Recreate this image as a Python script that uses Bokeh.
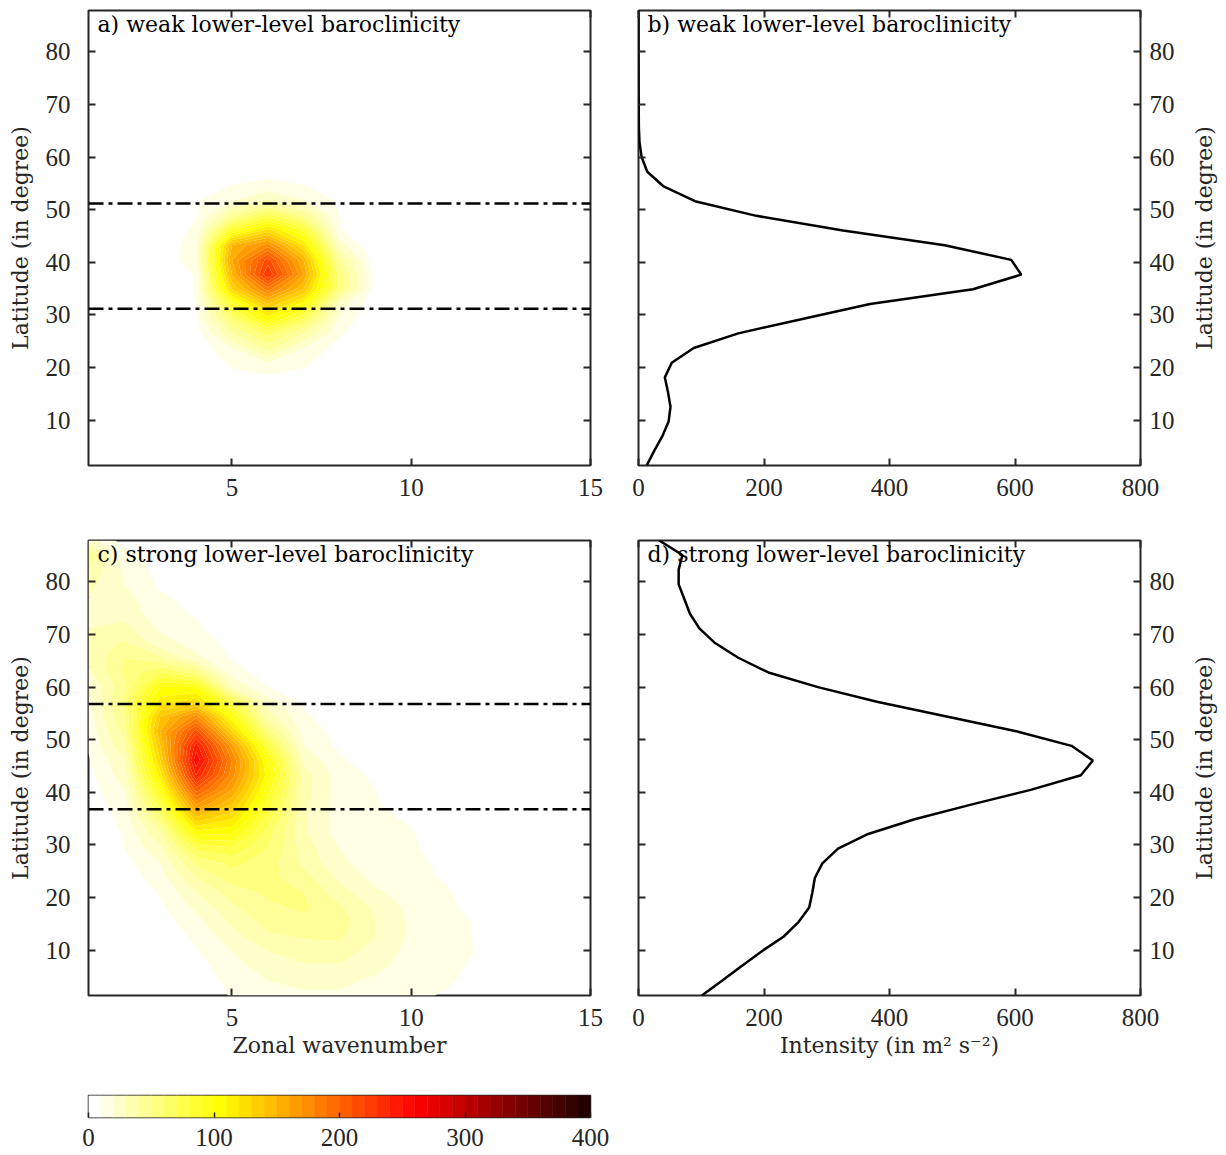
import math
import numpy as np
from bokeh.plotting import figure
from bokeh.models import Span, Label, LinearAxis, FixedTicker
from bokeh.layouts import column, row
from bokeh.embed import file_html
from bokeh.resources import INLINE

# ---------------------------------------------------------------- data
wavenumber = list(range(1, 16))
latitude = [1.40, 4.19, 6.98, 9.77, 12.56, 15.35, 18.14, 20.93, 23.72, 26.51,
            29.30, 32.09, 34.88, 37.67, 40.47, 43.26, 46.05, 48.84, 51.63, 54.42,
            57.21, 60.00, 62.79, 65.58, 68.37, 71.16, 73.95, 76.74, 79.53, 82.33,
            85.10, 87.86]

# eddy intensity per zonal wavenumber (rows: latitude, columns: wavenumber 1..15)
weak_spectrum = [
    [0, 1, 1, 2, 2, 2, 2, 2, 1, 0, 0, 0, 0, 0, 0],
    [0, 1, 2, 3, 4, 4, 4, 4, 2, 1, 0, 0, 0, 0, 0],
    [0, 2, 4, 5, 6, 6, 6, 5, 3, 1, 0, 0, 0, 0, 0],
    [0, 3, 5, 6, 7, 7, 7, 6, 4, 2, 1, 0, 0, 0, 0],
    [0, 3, 5, 7, 8, 8, 7, 6, 4, 2, 1, 0, 0, 0, 0],
    [0, 3, 5, 6, 7, 7, 6, 5, 4, 3, 1, 0, 0, 0, 0],
    [0, 2, 3, 5, 7, 8, 7, 5, 3, 2, 0, 0, 0, 0, 0],
    [0, 0, 1, 2, 12, 20, 12, 3, 1, 0, 0, 0, 0, 0, 0],
    [0, 0, 0, 2, 20, 45, 20, 5, 0, 0, 0, 0, 0, 0, 0],
    [0, 0, 0, 5, 40, 65, 40, 12, 0, 0, 0, 0, 0, 0, 0],
    [0, 0, 0, 8, 60, 105, 70, 18, 0, 0, 0, 0, 0, 0, 0],
    [0, 0, 0, 10, 85, 140, 105, 25, 2, 0, 0, 0, 0, 0, 0],
    [0, 0, 0, 11, 130, 185, 140, 55, 5, 0, 0, 0, 0, 0, 0],
    [0, 0, 0, 11, 150, 230, 160, 55, 5, 0, 0, 0, 0, 0, 0],
    [0, 0, 0, 18, 160, 215, 150, 45, 2, 0, 0, 0, 0, 0, 0],
    [0, 0, 0, 17, 150, 175, 120, 25, 0, 0, 0, 0, 0, 0, 0],
    [0, 0, 0, 13, 90, 125, 87, 11, 0, 0, 0, 0, 0, 0, 0],
    [0, 0, 0, 9, 45, 75, 49, 10, 0, 0, 0, 0, 0, 0, 0],
    [0, 0, 0, 9, 20, 32, 21, 8, 0, 0, 0, 0, 0, 0, 0],
    [0, 0, 0, 2, 11, 15, 11, 2, 0, 0, 0, 0, 0, 0, 0],
    [0, 0, 0, 1, 4, 5, 3, 1, 0, 0, 0, 0, 0, 0, 0],
    [0, 0, 0, 0, 1, 2, 2, 0, 0, 0, 0, 0, 0, 0, 0],
    [0, 0, 0, 0, 0, 0, 0, 0, 0, 0, 0, 0, 0, 0, 0],
    [0, 0, 0, 0, 0, 0, 0, 0, 0, 0, 0, 0, 0, 0, 0],
    [0, 0, 0, 0, 0, 0, 0, 0, 0, 0, 0, 0, 0, 0, 0],
    [0, 0, 0, 0, 0, 0, 0, 0, 0, 0, 0, 0, 0, 0, 0],
    [0, 0, 0, 0, 0, 0, 0, 0, 0, 0, 0, 0, 0, 0, 0],
    [0, 0, 0, 0, 0, 0, 0, 0, 0, 0, 0, 0, 0, 0, 0],
    [0, 0, 0, 0, 0, 0, 0, 0, 0, 0, 0, 0, 0, 0, 0],
    [0, 0, 0, 0, 0, 0, 0, 0, 0, 0, 0, 0, 0, 0, 0],
    [0, 0, 0, 0, 0, 0, 0, 0, 0, 0, 0, 0, 0, 0, 0],
    [0, 0, 0, 0, 0, 0, 0, 0, 0, 0, 0, 0, 0, 0, 0],
]

strong_spectrum = [
    [0, 0, 0, 2, 11, 15, 18, 18, 15, 12, 9, 1, 0, 0, 0],
    [0, 0, 0, 4, 13, 20, 23, 23, 18, 13, 11, 7, 1, 0, 0],
    [0, 0, 0, 6, 16, 25, 29, 29, 23, 15, 12, 8, 1, 0, 0],
    [0, 0, 0, 9, 20, 30, 35, 35, 26, 17, 13, 9, 2, 0, 0],
    [0, 0, 3, 12, 26, 38, 41, 42, 30, 18, 12, 9, 1, 0, 0],
    [0, 0, 5, 16, 32, 44, 47, 45, 30, 18, 12, 9, 0, 0, 0],
    [0, 0, 8, 22, 38, 48, 52, 42, 28, 17, 12, 5, 0, 0, 0],
    [0, 2, 11, 30, 45, 52, 50, 35, 22, 15, 11, 4, 0, 0, 0],
    [0, 4, 15, 40, 55, 53, 45, 28, 17, 13, 9, 2, 0, 0, 0],
    [0, 6, 20, 52, 63, 55, 38, 22, 15, 12, 8, 2, 0, 0, 0],
    [0, 10, 28, 72, 78, 60, 36, 20, 14, 12, 4, 0, 0, 0, 0],
    [0, 11, 38, 102, 100, 65, 32, 16, 12, 11, 2, 0, 0, 0, 0],
    [2, 13, 55, 135, 120, 75, 32, 15, 12, 9, 0, 0, 0, 0, 0],
    [4, 16, 75, 170, 140, 85, 33, 15, 11, 4, 0, 0, 0, 0, 0],
    [5, 20, 95, 205, 160, 95, 35, 15, 10, 2, 0, 0, 0, 0, 0],
    [7, 25, 115, 240, 175, 105, 35, 15, 8, 0, 0, 0, 0, 0, 0],
    [9, 30, 130, 258, 180, 100, 28, 12, 4, 0, 0, 0, 0, 0, 0],
    [11, 38, 140, 245, 165, 80, 20, 8, 2, 0, 0, 0, 0, 0, 0],
    [13, 45, 150, 215, 130, 55, 16, 6, 0, 0, 0, 0, 0, 0, 0],
    [15, 50, 140, 175, 100, 35, 12, 4, 0, 0, 0, 0, 0, 0, 0],
    [18, 55, 115, 125, 75, 25, 8, 3, 0, 0, 0, 0, 0, 0, 0],
    [20, 48, 100, 100, 30, 10, 4, 1, 0, 0, 0, 0, 0, 0, 0],
    [28, 52, 70, 55, 15, 5, 2, 0, 0, 0, 0, 0, 0, 0, 0],
    [32, 50, 42, 23, 9, 3, 0, 0, 0, 0, 0, 0, 0, 0, 0],
    [33, 42, 25, 15, 7, 1, 0, 0, 0, 0, 0, 0, 0, 0, 0],
    [30, 33, 18, 12, 3, 1, 0, 0, 0, 0, 0, 0, 0, 0, 0],
    [30, 27, 14, 9, 2, 1, 0, 0, 0, 0, 0, 0, 0, 0, 0],
    [30, 24, 13, 5, 2, 0, 0, 0, 0, 0, 0, 0, 0, 0, 0],
    [33, 20, 8, 3, 0, 0, 0, 0, 0, 0, 0, 0, 0, 0, 0],
    [38, 18, 6, 2, 0, 0, 0, 0, 0, 0, 0, 0, 0, 0, 0],
    [50, 15, 5, 2, 0, 0, 0, 0, 0, 0, 0, 0, 0, 0, 0],
    [25, 5, 2, 0, 0, 0, 0, 0, 0, 0, 0, 0, 0, 0, 0],
]

# zonally integrated intensity profiles (m^2 s^-2)
weak_intensity = [13, 25, 38, 48, 51, 47, 42, 53, 88, 159, 263, 369, 533, 610,
                  594, 488, 326, 188, 90, 40, 14, 5, 1.6, 0.6, 0.4, 0.3, 0.2,
                  0.2, 0.1, 0.1, 0.1, 0.1]
strong_intensity = [101, 133, 164, 196, 231, 255, 272, 277, 281, 293, 318, 366,
                    440, 530, 625, 705, 724, 690, 602, 491, 380, 286, 207, 159,
                    122, 97, 82, 73, 64, 64, 70, 33]

# latitude band of the storm track
weak_band = [31.2, 51.2]
strong_band = [36.8, 56.8]

lat_ticks = [10, 20, 30, 40, 50, 60, 70, 80]
wavenumber_ticks = [5, 10, 15]
intensity_ticks = [0, 200, 400, 600, 800]
colorbar_ticks = [0, 100, 200, 300, 400]

# ---------------------------------------------------------------- colours
levels = list(range(0, 401, 10))
stops = [(0, (255, 255, 255)), (100, (255, 255, 0)),
         (256, (255, 0, 0)), (400, (18, 0, 0))]


def cmap(v):
    for (v0, c0), (v1, c1) in zip(stops[:-1], stops[1:]):
        if v <= v1:
            t = (v - v0) / (v1 - v0)
            rgb = [round(a + t * (b - a)) for a, b in zip(c0, c1)]
            return "#%02x%02x%02x" % tuple(rgb)
    return "#%02x%02x%02x" % stops[-1][1]


band_colors = [cmap(lv) for lv in levels[:-1]]

INK = "#262626"
WORD_FONT = "DejaVu Serif"
NUM_FONT = "Liberation Serif"
NUM_SIZE = "25px"
WORD_SIZE = "22px"
LAT_LABEL = "Latitude (in degree)"

FW = 502
FH = 455
SIDE_W = 38          # strip holding the right-hand latitude label


def style_axis(ax, ticks, show_labels=True):
    ax.ticker = FixedTicker(ticks=ticks)
    ax.axis_line_color = None
    ax.major_tick_in = 7
    ax.major_tick_out = 0
    ax.minor_tick_line_color = None
    ax.major_tick_line_color = INK
    ax.major_tick_line_width = 2
    ax.major_label_text_font = NUM_FONT
    ax.axis_label_text_font = WORD_FONT
    ax.axis_label_text_font_size = WORD_SIZE
    ax.axis_label_text_font_style = "normal"
    ax.axis_label_text_color = INK
    if show_labels:
        ax.major_label_text_font_size = NUM_SIZE
        ax.major_label_text_color = INK
    else:
        # tick marks only, mirrored on the opposite side of the box
        ax.major_label_text_font_size = "1px"
        ax.major_label_text_color = None
        ax.major_label_text_alpha = 0
        ax.major_label_standoff = 0


def panel(xr, xticks, border_left, border_right, border_top, border_bottom,
          y_side, xlabel, title):
    p = figure(x_range=xr, y_range=(1.40, 87.86),
               frame_width=FW, frame_height=FH,
               min_border_left=border_left, min_border_right=border_right,
               min_border_top=border_top, min_border_bottom=border_bottom,
               y_axis_location=y_side, output_backend="svg",
               toolbar_location=None)
    p.grid.visible = False
    p.outline_line_color = INK
    p.outline_line_width = 2
    p.outline_line_alpha = 1
    p.background_fill_color = "white"
    p.border_fill_color = "white"

    style_axis(p.xaxis[0], xticks)
    p.xaxis[0].major_label_standoff = 13
    if xlabel:
        p.xaxis[0].axis_label = xlabel
        p.xaxis[0].axis_label_standoff = 4

    ya = p.yaxis[0]
    style_axis(ya, lat_ticks)
    if y_side == "left":
        ya.axis_label = LAT_LABEL
        ya.major_label_standoff = 18
        ya.axis_label_standoff = 10
    else:
        ya.major_label_standoff = 9

    top = LinearAxis()
    style_axis(top, xticks, show_labels=False)
    p.add_layout(top, "above")
    other = LinearAxis()
    style_axis(other, lat_ticks, show_labels=False)
    p.add_layout(other, "right" if y_side == "left" else "left")

    p.add_layout(Label(x=9, y=FH - 14, x_units="screen", y_units="screen",
                       text=title, text_font=WORD_FONT, text_font_size=WORD_SIZE,
                       text_color="black", text_baseline="alphabetic"))
    return p


def spectrum_panel(field, band, border_top, border_bottom, xlabel, title):
    p = panel((1, 15), wavenumber_ticks, 88, 24, border_top, border_bottom,
              "left", xlabel, title)
    p.contour(wavenumber, latitude, np.array(field, dtype=float),
              levels=levels[1:], fill_color=band_colors[1:], line_color=None)
    for lat in band:
        p.add_layout(Span(location=lat, dimension="width", line_color="black",
                          line_width=2.5, line_dash="15 5 4 5"))
    return p


def profile_panel(values, border_top, border_bottom, xlabel, title):
    p = panel((0, 800), intensity_ticks, 24, 1226 - 614 - 24 - FW - SIDE_W,
              border_top, border_bottom, "right", xlabel, title)
    p.line(values, latitude, line_color="black", line_width=2.5)
    return p


def side_label(border_top, border_bottom):
    # narrow strip on the far right carrying the latitude label, bottom-to-top
    s = figure(x_range=(0, 1), y_range=(0, 1), frame_width=SIDE_W,
               frame_height=FH, min_border_left=0, min_border_right=0,
               min_border_top=border_top, min_border_bottom=border_bottom,
               output_backend="svg", toolbar_location=None)
    s.axis.visible = False
    s.grid.visible = False
    s.outline_line_color = None
    s.add_layout(Label(x=16, y=FH / 2, x_units="screen", y_units="screen",
                       text=LAT_LABEL, angle=math.pi / 2, text_align="center",
                       text_baseline="middle", text_font=WORD_FONT,
                       text_font_size=WORD_SIZE, text_color=INK))
    return s


pa = spectrum_panel(weak_spectrum, weak_band, 10, 65, None,
                    "a) weak lower-level baroclinicity")
pb = profile_panel(weak_intensity, 10, 65, None,
                   "b) weak lower-level baroclinicity")
pc = spectrum_panel(strong_spectrum, strong_band, 10, 86, "Zonal wavenumber",
                    "c) strong lower-level baroclinicity")
pd = profile_panel(strong_intensity, 10, 86, "Intensity (in m² s⁻²)",
                   "d) strong lower-level baroclinicity")

# ---------------------------------------------------------------- colour bar
cb = figure(x_range=(0, 400), y_range=(0, 1), frame_width=FW, frame_height=22,
            min_border_left=88, min_border_right=24, min_border_top=14,
            min_border_bottom=38, output_backend="svg", toolbar_location=None)
cb.grid.visible = False
cb.yaxis.visible = False
cb.outline_line_color = INK
cb.outline_line_width = 1.5
cb.quad(left=levels[:-1], right=levels[1:], bottom=0, top=1,
        fill_color=band_colors, line_color=band_colors, line_width=0.5)
style_axis(cb.xaxis[0], colorbar_ticks)
cb.xaxis[0].major_tick_in = 5
cb.xaxis[0].major_tick_line_width = 1.5
cb.xaxis[0].major_label_standoff = 11

layout = column(row(pa, pb, side_label(10, 65), spacing=0),
                row(pc, pd, side_label(10, 86), spacing=0),
                cb, spacing=0)

open("out.html", "w").write(file_html(layout, INLINE))
